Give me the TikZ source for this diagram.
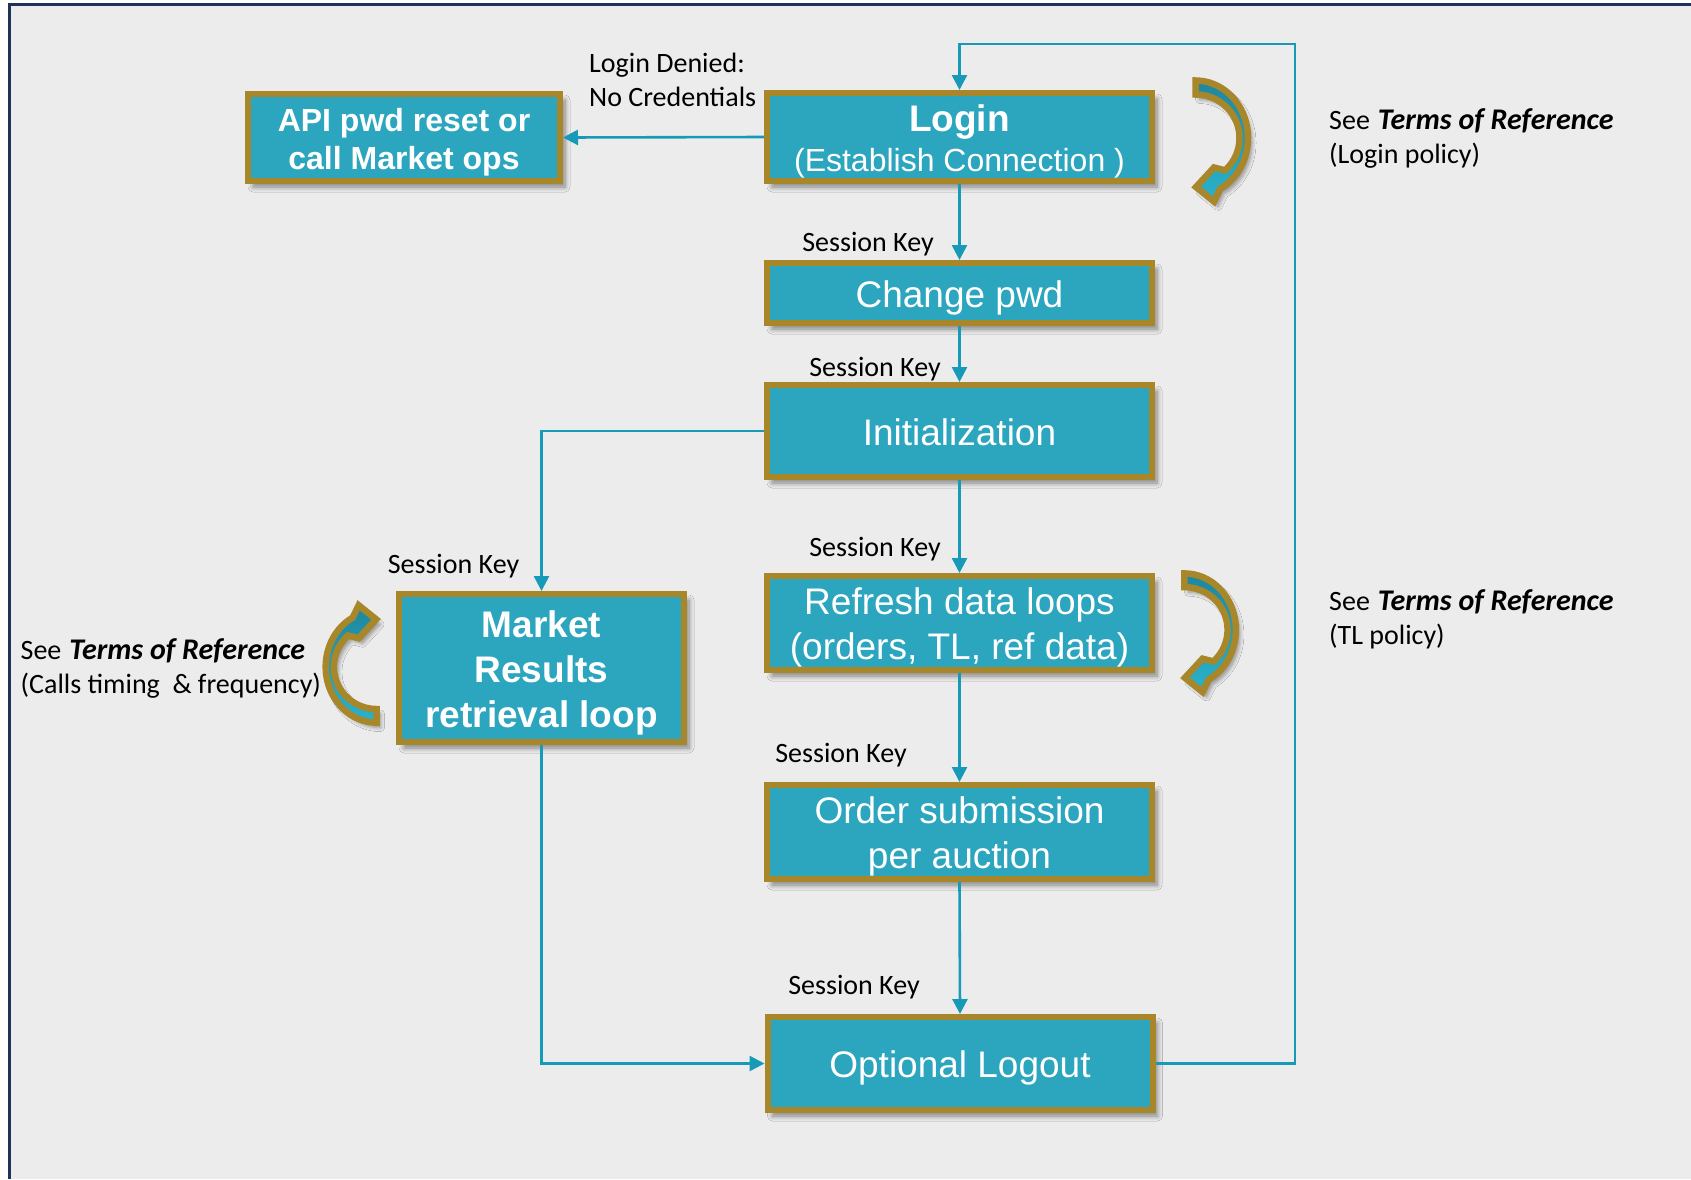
\documentclass[tikz,border=0pt]{standalone}
\usepackage{fontspec}
\setmainfont{Liberation Sans}
\newfontfamily\calib{Carlito}
\usetikzlibrary{arrows.meta,shadows.blur}

\definecolor{boxteal}{RGB}{44,165,190}
\definecolor{gold}{RGB}{168,134,42}
\definecolor{connc}{RGB}{22,154,184}
\definecolor{bgc}{RGB}{236,236,236}
\definecolor{framec}{RGB}{31,51,88}
\definecolor{arrdark}{RGB}{30,135,158}
\definecolor{arrlight}{RGB}{42,178,204}

\newcommand{\mytop}{\rule{0pt}{36.5pt}}
\newcommand{\mybot}{\rule[-8pt]{0pt}{8pt}}
\newcommand{\tor}{\hspace{8pt}{\fontsize{30}{34}\selectfont\bfseries\itshape Terms of Reference}}

\tikzset{
  curvarr/.pic={
    \path[draw=gold, line width=6.5pt, line join=miter, top color=arrdark, bottom color=arrlight,
          blur shadow={shadow xshift=4pt, shadow yshift=-5pt, shadow blur steps=6, shadow blur radius=4pt, shadow opacity=40}]
      plot[domain=-90:62, samples=40] ({3.5+52.5*cos(\x)},{61+57.5*sin(\x)})
      -- (22,124.5) -- (4,110) -- (22,90.5)
      -- plot[domain=47.9:-90, samples=40] ({3.5+44*cos(\x)},{61+43.5*sin(\x)})
      -- cycle;
  }
}

\begin{document}
\begin{tikzpicture}[x=1pt,y=-1pt,
  box/.style={draw=gold, line width=6pt, fill=boxteal, text=white, align=center, inner sep=0pt,
    blur shadow={shadow xshift=5pt, shadow yshift=-6pt, shadow blur steps=8, shadow blur radius=5pt, shadow opacity=45}},
  big/.style={font=\fontsize{37}{45}\selectfont},
  link/.style={draw=connc, line width=2.6pt, -{Triangle[length=15pt,width=15pt]}},
  lab/.style={font=\calib\fontsize{28}{34}\selectfont, inner sep=0pt, align=left},
]
\useasboundingbox (0,0) rectangle (1691,1179);
\fill[white] (0,0) rectangle (1691,1179);
\fill[bgc] (9.5,4.5) rectangle (1691,1179);
\draw[framec, line width=3pt] (9.5,1179) -- (9.5,4.5) -- (1691,4.5);

% boxes
\node[box, minimum width=385pt, minimum height=88pt, font=\fontsize{32}{40}\selectfont] (login) at (959.5,137)
  {\rule{0pt}{35.6pt}{\bfseries\fontsize{37}{40}\selectfont Login}\\(Establish Connection )\rule[-7pt]{0pt}{7pt}};
\node[box, minimum width=312pt, minimum height=87pt, font=\bfseries\fontsize{32}{38}\selectfont] (api) at (404,137.5)
  {\rule{0pt}{32.3pt}API pwd reset or\\call Market ops\rule[-7pt]{0pt}{7pt}};
\node[box, big, minimum width=385pt, minimum height=60pt] (chg) at (959.5,293) {\mytop\mybot Change pwd};
\node[box, big, minimum width=385pt, minimum height=92pt] (init) at (959.5,431) {\mytop\mybot Initialization};
\node[box, big, minimum width=385pt, minimum height=94pt] (refresh) at (959.5,623) {\mytop Refresh data loops\\(orders, TL, ref data)\mybot};
\node[box, big, font=\bfseries\fontsize{37}{45}\selectfont, minimum width=285pt, minimum height=148pt] (market) at (541.5,668) {\mytop Market\\Results\\retrieval loop\mybot};
\node[box, big, minimum width=385pt, minimum height=94pt] (order) at (959.5,832) {\mytop Order submission\\per auction\mybot};
\node[box, big, minimum width=385pt, minimum height=93pt] (logout) at (960,1063.5) {\mytop\mybot Optional Logout};

% curved arrows
\pic at (1192,77) {curvarr};
\pic[scale=0.98] at (1181,570) {curvarr};
\pic[rotate=180, scale=0.97] at (380,726) {curvarr};

% connectors
\coordinate (topR) at (1295,44);
\draw[link] (login.south) -- (chg.north);
\draw[link] (chg.south) -- (init.north);
\draw[link] (init.south) -- (refresh.north);
\draw[link] (refresh.south) -- (order.north);
\draw[link] (order.south) -- (logout.north);
\draw[link] (logout.east) -| (topR) -| (login.north);
\draw[link] (init.west) -| (market.north);
\draw[link] (market.south) |- (logout.west);
\draw[link] (login.west) -- (api.east);

% labels
\node[lab, anchor=west] (denied) at (589,80) {Login Denied:\\No Credentials};
\node[lab] (sk1) at (868,244) {Session Key};
\node[lab] (sk2) at (875,369) {Session Key};
\node[lab] (sk3) at (875,549) {Session Key};
\node[lab] (sk4) at (453.5,566) {Session Key};
\node[lab] (sk5) at (841,755) {Session Key};
\node[lab] (sk6) at (854,987) {Session Key};
\node[lab, anchor=west] (note1) at (1329,138) {See\tor\\(Login policy)};
\node[lab, anchor=west] (note2) at (1329,619) {See\tor\\(TL policy)};
\node[lab, anchor=west] (note3) at (20.5,668) {See\tor\\(Calls timing\ \ \&~frequency)};
\end{tikzpicture}
\end{document}
